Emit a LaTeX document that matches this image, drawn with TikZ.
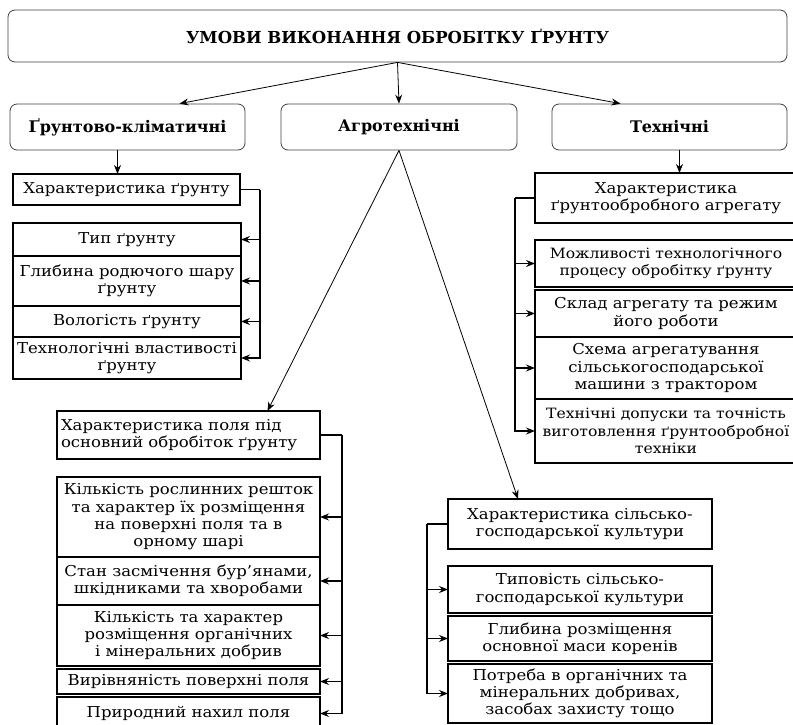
\documentclass[tikz,border=0pt]{standalone}
\usepackage{fontspec}
\setmainfont{DejaVu Serif}[FakeStretch=1.1]
\newfontfamily\headfont{DejaVu Serif}
\usetikzlibrary{arrows.meta,positioning}

\tikzset{
  head/.style={draw=black!75, line width=0.8pt, rounded corners=7pt,
    align=center, font=\headfont\fontsize{16}{19}\selectfont\bfseries},
  item/.style={draw, line width=1.3pt, align=center, anchor=north west,
    inner xsep=0pt, inner ysep=1pt, outer sep=0pt},
  thinarr/.style={line width=0.8pt, -{Stealth[length=9pt,width=7pt,inset=3pt]}},
  busarr/.style={line width=1.3pt, -{Stealth[length=9pt,width=7pt,inset=3pt]}},
  bus/.style={line width=1.3pt}
}

\begin{document}
\begin{tikzpicture}[x=1pt, y=-1pt, font=\fontsize{15}{17.3}\selectfont]
  \useasboundingbox (0,0) rectangle (793,725);

  % top level
  \node[head, minimum width=779pt, minimum height=52pt, font=\headfont\fontsize{16.5}{19}\selectfont\bfseries]
    (title) at (397.5,36) {УМОВИ ВИКОНАННЯ ОБРОБІТКУ ҐРУНТУ};
  \node[head, minimum width=235pt, minimum height=46pt] (soil) at (127.5,127) {Ґрунтово-кліматичні};
  \node[head, minimum width=236pt, minimum height=46pt] (agro) at (399,127) {Агротехнічні};
  \node[head, minimum width=235pt, minimum height=46pt] (tech) at (669.5,127) {Технічні};

  \draw[thinarr] (title.south) -- ([xshift=52pt]soil.north);
  \draw[thinarr] (title.south) -- (agro.north);
  \draw[thinarr] (title.south) -- ([xshift=-49pt]tech.north);

  % soil and climate
  \node[item, minimum width=227pt, minimum height=31pt] (soilchar) at (13,174) {Характеристика ґрунту};
  \node[item, minimum width=228pt, minimum height=33pt] (s1) at (13,223) {Тип ґрунту};
  \node[item, minimum width=228pt, minimum height=50pt] (s2) at (13,256) {Глибина родючого шару\\ґрунту};
  \node[item, minimum width=228pt, minimum height=31pt] (s3) at (13,306) {Вологість ґрунту};
  \node[item, minimum width=228pt, minimum height=42pt] (s4) at (13,337) {Технологічні властивості\\ґрунту};

  \draw[thinarr] ([xshift=-10pt]soil.south) -- ([xshift=-10pt]soil.south |- soilchar.north);
  \coordinate (sbus) at ([xshift=20pt]soilchar.east);
  \draw[bus] (soilchar.east) -- (sbus);
  \draw[busarr] (sbus) |- (s4.east);
  \foreach \n in {s1,s2,s3}
    \draw[busarr] (sbus |- \n.east) -- (\n.east);

  % technical
  \node[item, minimum width=262pt, minimum height=50pt] (techchar) at (535,173) {Характеристика\\ґрунтообробного агрегату};
  \node[item, minimum width=262pt, minimum height=47pt, font=\fontsize{14.2}{17.3}\selectfont] (t1) at (535,240)
    {Можливості технологічного\\процесу обробітку ґрунту};
  \node[item, minimum width=262pt, minimum height=47pt] (t2) at (535,290) {Склад агрегату та режим\\його роботи};
  \node[item, minimum width=262pt, minimum height=62pt] (t3) at (535,337) {Схема агрегатування\\сільськогосподарської\\машини з трактором};
  \node[item, minimum width=262pt, minimum height=64pt, font=\fontsize{14.2}{17.3}\selectfont] (t4) at (535,399)
    {Технічні допуски та точність\\виготовлення ґрунтообробної\\техніки};

  \draw[thinarr] ([xshift=10pt]tech.south) -- ([xshift=10pt]tech.south |- techchar.north);
  \coordinate (tbus) at ([xshift=-20pt]techchar.west);
  \draw[bus] (techchar.west) -- (tbus);
  \draw[busarr] (tbus) |- (t4.west);
  \foreach \n in {t1,t2,t3}
    \draw[busarr] (tbus |- \n.west) -- (\n.west);

  % agrotechnical: field
  \node[item, text width=255pt, inner xsep=4pt, minimum height=48pt, align=left] (fieldchar) at (57,411)
    {Характеристика поля під\\основний обробіток ґрунту};
  \node[item, minimum width=263pt, minimum height=80pt] (f1) at (57,477)
    {Кількість рослинних решток\\та характер їх розміщення\\на поверхні поля та в\\орному шарі};
  \node[item, minimum width=263pt, minimum height=48pt] (f2) at (57,557) {Стан засмічення бур’янами,\\шкідниками та хворобами};
  \node[item, minimum width=263pt, minimum height=61pt] (f3) at (57,605)
    {Кількість та характер\\розміщення органічних\\і мінеральних добрив};
  \node[item, minimum width=263pt, minimum height=25pt] (f4) at (57,669) {Вирівняність поверхні поля};
  \node[item, minimum width=263pt, minimum height=33pt] (f5) at (57,697) {Природний нахил поля};

  \draw[thinarr] (agro.south) -- ([xshift=79pt]fieldchar.north);
  \coordinate (fbus) at ([xshift=22pt]fieldchar.east);
  \draw[bus] (fieldchar.east) -- (fbus);
  \draw[busarr] (fbus) |- (f5.east);
  \foreach \n in {f1,f2,f3,f4}
    \draw[busarr] (fbus |- \n.east) -- (\n.east);

  % agrotechnical: crop
  \node[item, minimum width=264pt, minimum height=50pt] (cropchar) at (448,499)
    {Характеристика сільсько-\\господарської культури};
  \node[item, minimum width=264pt, minimum height=47pt] (c1) at (448,566) {Типовість сільсько-\\господарської культури};
  \node[item, minimum width=264pt, minimum height=45pt] (c2) at (448,616) {Глибина розміщення\\основної маси коренів};
  \node[item, minimum width=264pt, minimum height=59pt] (c3) at (448,664)
    {Потреба в органічних та\\мінеральних добривах,\\засобах захисту тощо};

  \draw[thinarr] (agro.south) -- ([xshift=-62pt]cropchar.north);
  \coordinate (cbus) at ([xshift=-21pt]cropchar.west);
  \draw[bus] (cropchar.west) -- (cbus);
  \draw[busarr] (cbus) |- (c3.west);
  \foreach \n in {c1,c2}
    \draw[busarr] (cbus |- \n.west) -- (\n.west);
\end{tikzpicture}
\end{document}
